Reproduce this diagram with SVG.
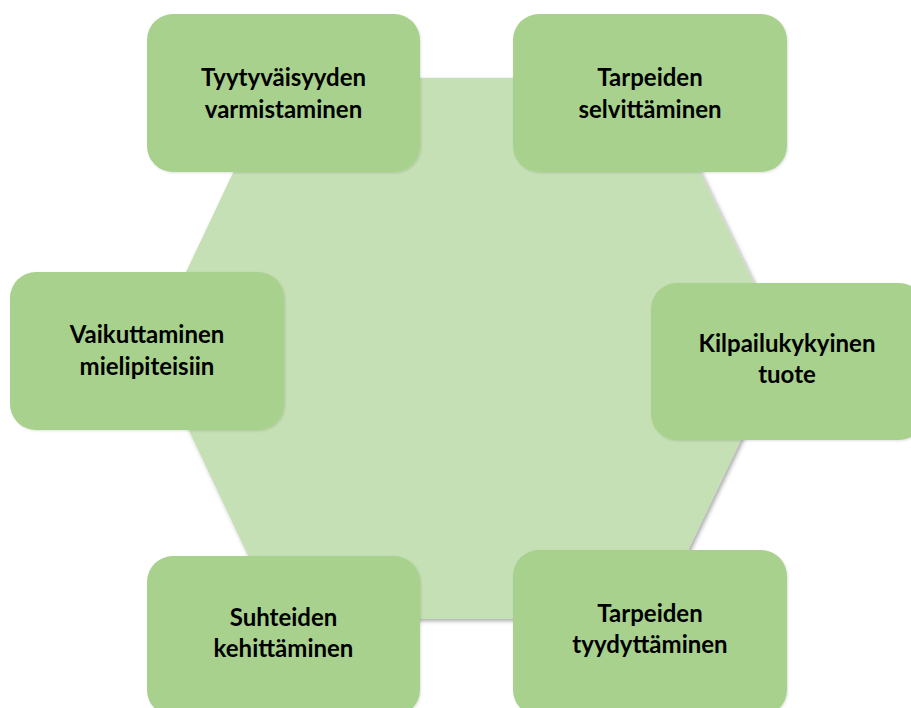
<svg xmlns="http://www.w3.org/2000/svg" width="911" height="708" viewBox="0 0 911 708">
  <defs>
    <filter id="shadow" x="-10%" y="-10%" width="120%" height="120%">
      <feDropShadow dx="2" dy="2" stdDeviation="2" flood-color="#000" flood-opacity="0.35"/>
    </filter>
    <filter id="soft" x="-10%" y="-10%" width="120%" height="120%">
      <feDropShadow dx="1" dy="1" stdDeviation="1" flood-color="#000" flood-opacity="0.12"/>
    </filter>
  </defs>
  <style>
    .box { fill: #a9d18e; filter: url(#soft); }
    .label { font-family: Lato, "Liberation Sans", sans-serif; font-weight: bold; font-size: 24px; fill: #000; text-anchor: middle; }
  </style>
  <rect width="911" height="708" fill="#fff"/>

  <!-- central hexagon -->
  <g id="hexagon">
    <polygon points="150,348 278,78 655,78 785,348 655,619 278,619" fill="#c5e0b4" filter="url(#shadow)"/>
  </g>

  <g id="connectors"></g>

  <g id="tyytyvaisyys">
    <rect class="box" x="147" y="14" width="273" height="158" rx="26"/>
    <text class="label" x="283.5" y="86">Tyytyväisyyden</text>
    <text class="label" x="283.5" y="118">varmistaminen</text>
  </g>

  <g id="tarpeiden-selvittaminen">
    <rect class="box" x="513" y="14" width="274" height="158" rx="26"/>
    <text class="label" x="650" y="86">Tarpeiden</text>
    <text class="label" x="650" y="118">selvittäminen</text>
  </g>

  <g id="vaikuttaminen">
    <rect class="box" x="10" y="272" width="274" height="158" rx="26"/>
    <text class="label" x="147" y="343">Vaikuttaminen</text>
    <text class="label" x="147" y="375">mielipiteisiin</text>
  </g>

  <g id="kilpailukykyinen">
    <rect class="box" x="651" y="283" width="274" height="157" rx="26"/>
    <text class="label" x="787" y="352">Kilpailukykyinen</text>
    <text class="label" x="787" y="383">tuote</text>
  </g>

  <g id="suhteiden">
    <rect class="box" x="147" y="556" width="273" height="160" rx="26"/>
    <text class="label" x="283.5" y="626">Suhteiden</text>
    <text class="label" x="283.5" y="657">kehittäminen</text>
  </g>

  <g id="tarpeiden-tyydyttaminen">
    <rect class="box" x="513" y="550" width="274" height="166" rx="26"/>
    <text class="label" x="650" y="622">Tarpeiden</text>
    <text class="label" x="650" y="653">tyydyttäminen</text>
  </g>
</svg>
